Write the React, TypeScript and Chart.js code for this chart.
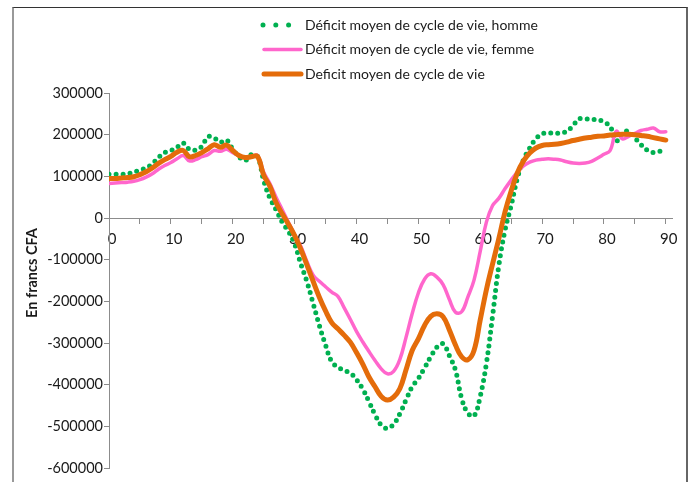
import React, { useEffect, useRef } from 'react';
import { Chart, registerables } from 'chart.js';

Chart.register(...registerables);

const AGES = [
  0, 1, 2, 3, 4, 5, 6, 7, 8, 9,
  10, 11, 12, 13, 14, 15, 16, 17, 18, 19,
  20, 21, 22, 23, 24, 25, 26, 27, 28, 29,
  30, 31, 32, 33, 34, 35, 36, 37, 38, 39,
  40, 41, 42, 43, 44, 45, 46, 47, 48, 49,
  50, 51, 52, 53, 54, 55, 56, 57, 58, 59,
  60, 61, 62, 63, 64, 65, 66, 67, 68, 69,
  70, 71, 72, 73, 74, 75, 76, 77, 78, 79,
  80, 81, 82, 83, 84, 85, 86, 87, 88, 89, 90,
];

const HOMME = [
  105000, 105000, 105000, 106000, 110000, 115000, 120000, 130000, 145000, 157000,
  162000, 170000, 180000, 165000, 163000, 172000, 195000, 192000, 182000, 187000,
  165000, 147000, 138000, 152000, 148000, 90000, 48000, 20000, -10000, -32000,
  -62000, -110000, -153000, -205000, -258000, -305000, -345000, -358000, -366000, -372000,
  -388000, -410000, -440000, -472000, -497000, -505000, -495000, -470000, -437000, -405000,
  -385000, -360000, -333000, -310000, -302000, -330000, -365000, -433000, -468000, -475000,
  -428000, -349000, -235000, -115000, -30000, 30000, 95000, 140000, 168000, 190000,
  202000, 204000, 204000, 204000, 208000, 222000, 238000, 238000, 236000, 236000,
  230000, 220000, 185000, 205000, 208000, 192000, 176000, 163000, 157000, 160000, 165000,
];

const FEMME = [
  83000, 84000, 85000, 86000, 88000, 92000, 98000, 106000, 117000, 126000,
  133000, 142000, 150000, 137000, 140000, 147000, 152000, 162000, 160000, 165000,
  157000, 150000, 146000, 148000, 150000, 110000, 83000, 50000, 20000, -10000,
  -40000, -68000, -105000, -137000, -152000, -165000, -178000, -188000, -215000, -243000,
  -272000, -297000, -320000, -342000, -362000, -374000, -368000, -340000, -287000, -230000,
  -180000, -147000, -134000, -142000, -160000, -195000, -226000, -225000, -190000, -149000,
  -80000, -10000, 30000, 47000, 70000, 91000, 110000, 125000, 134000, 139000,
  141000, 142000, 141000, 139000, 135000, 132000, 131000, 132000, 136000, 144000,
  153000, 162000, 208000, 190000, 196000, 203000, 210000, 213000, 216000, 207000, 207000,
];

const TOTAL = [
  95000, 95000, 96000, 97000, 99000, 104000, 111000, 120000, 131000, 140000,
  148000, 158000, 162000, 147000, 150000, 157000, 166000, 176000, 170000, 175000,
  162000, 150000, 145000, 147000, 148000, 103000, 76000, 37000, 10000, -15000,
  -42000, -75000, -113000, -152000, -190000, -223000, -251000, -266000, -281000, -298000,
  -323000, -350000, -381000, -405000, -428000, -437000, -430000, -410000, -365000, -318000,
  -290000, -258000, -236000, -230000, -237000, -268000, -305000, -333000, -340000, -318000,
  -245000, -172000, -110000, -50000, 14000, 65000, 108000, 137000, 156000, 168000,
  174000, 176000, 177000, 179000, 182000, 186000, 189000, 192000, 194000, 196000,
  197000, 199000, 200000, 201000, 201000, 200000, 198000, 196000, 193000, 190000, 187000,
];

const SERIES_LABELS = [
  'Déficit moyen de cycle de vie, homme',
  'Déficit moyen de cycle de vie, femme',
  'Deficit moyen de cycle de vie',
];
const Y_TITLE = 'En francs CFA';
const Y_MIN = -600000;
const Y_MAX = 300000;
const Y_STEP = 100000;
const X_MIN = 0;
const X_MAX = 91;
const X_TICKS = [0, 5, 10, 15, 20, 25, 30, 35, 40, 45, 50, 55, 60, 65, 70, 75, 80, 85, 90];
const X_LABEL_STEP = 10;

const GREEN = '#00b050';
const PINK = '#ff66cc';
const ORANGE = '#e46c0a';
const AXIS = '#8c8c8c';
const TEXT = '#1a1a1a';
const FONT = 'Lato';

const toPoints = (ys: number[]) => AGES.map((a, i) => ({ x: a, y: ys[i] }));

const legendPlugin = {
  id: 'customLegend',
  afterDraw(chart: any) {
    const ctx = chart.ctx as CanvasRenderingContext2D;
    const rows = [25, 49.5, 74];
    ctx.save();
    chart.data.datasets.forEach((ds: any, i: number) => {
      const y = rows[i];
      ctx.beginPath();
      ctx.strokeStyle = ds.borderColor;
      ctx.lineWidth = ds.borderWidth;
      ctx.lineCap = 'round';
      if (ds.borderDash && ds.borderDash.length) {
        ctx.setLineDash([0, 12.8]);
        ctx.moveTo(263, y);
        ctx.lineTo(290, y);
      } else {
        ctx.setLineDash([]);
        ctx.moveTo(264, y);
        ctx.lineTo(301, y);
      }
      ctx.stroke();
      ctx.setLineDash([]);
      ctx.fillStyle = TEXT;
      ctx.font = `14px ${FONT}`;
      ctx.textAlign = 'left';
      ctx.textBaseline = 'middle';
      ctx.fillText(ds.label, 305, y);
    });
    ctx.translate(32, 273);
    ctx.rotate(-Math.PI / 2);
    ctx.font = `bold 14.5px ${FONT}`;
    ctx.textAlign = 'center';
    ctx.textBaseline = 'middle';
    ctx.fillStyle = TEXT;
    ctx.fillText(Y_TITLE, 0, 0);
    ctx.restore();
  },
};

export default function App() {
  const ref = useRef<HTMLCanvasElement | null>(null);

  useEffect(() => {
    if (!ref.current) return;
    const chart = new Chart(ref.current, {
      type: 'line',
      data: {
        datasets: [
          {
            label: SERIES_LABELS[0],
            data: toPoints(HOMME),
            borderColor: GREEN,
            backgroundColor: GREEN,
            borderWidth: 5,
            borderDash: [0, 7],
            borderCapStyle: 'round',
            pointRadius: 0,
            tension: 0.4,
            fill: false,
            order: 3,
          },
          {
            label: SERIES_LABELS[1],
            data: toPoints(FEMME),
            borderColor: PINK,
            backgroundColor: PINK,
            borderWidth: 3.5,
            borderCapStyle: 'round',
            borderJoinStyle: 'round',
            pointRadius: 0,
            tension: 0.4,
            fill: false,
            order: 2,
          },
          {
            label: SERIES_LABELS[2],
            data: toPoints(TOTAL),
            borderColor: ORANGE,
            backgroundColor: ORANGE,
            borderWidth: 5,
            borderCapStyle: 'round',
            borderJoinStyle: 'round',
            pointRadius: 0,
            tension: 0.4,
            fill: false,
            order: 1,
          },
        ],
      },
      options: {
        animation: false,
        responsive: false,
        devicePixelRatio: 1,
        layout: { padding: { left: 0, top: 93, right: 20, bottom: 14 } },
        plugins: { legend: { display: false }, tooltip: { enabled: false }, title: { display: false } },
        scales: {
          x: {
            type: 'linear',
            min: X_MIN,
            max: X_MAX,
            position: { y: 0 },
            afterBuildTicks: (s: any) => {
              s.ticks = X_TICKS.map((v) => ({ value: v }));
            },
            ticks: {
              autoSkip: false,
              maxRotation: 0,
              padding: 7,
              color: TEXT,
              font: { family: FONT, size: 15 },
              labelOffset: 3,
              callback: (v: any) => (Number(v) % X_LABEL_STEP === 0 ? String(v) : ''),
            },
            grid: { display: true, drawOnChartArea: false, drawTicks: true, tickLength: 5, color: AXIS },
            border: { display: true, color: AXIS, width: 1 },
          },
          y: {
            type: 'linear',
            min: Y_MIN,
            max: Y_MAX,
            position: 'left',
            afterFit: (s: any) => {
              s.width = 109;
            },
            ticks: {
              stepSize: Y_STEP,
              padding: 1,
              color: TEXT,
              font: { family: FONT, size: 14.5 },
              callback: (v: any) => String(v),
            },
            grid: { display: true, drawOnChartArea: false, drawTicks: true, tickLength: 5, color: AXIS },
            border: { display: true, color: AXIS, width: 1 },
          },
        },
      },
      plugins: [legendPlugin],
    } as any);
    return () => chart.destroy();
  }, []);

  return (
    <div>
      <div
        style={{
          position: 'absolute',
          left: 12,
          top: 7,
          width: 672,
          height: 520,
          borderTop: '1.5px solid #333',
          borderLeft: '2px solid #999',
          borderRight: '2px solid #666',
          boxSizing: 'content-box',
        }}
      />
      <div style={{ position: 'absolute', left: 0, top: 0, width: 692, height: 482, overflow: 'hidden' }}>
        <canvas ref={ref} width={692} height={482} />
      </div>
    </div>
  );
}
